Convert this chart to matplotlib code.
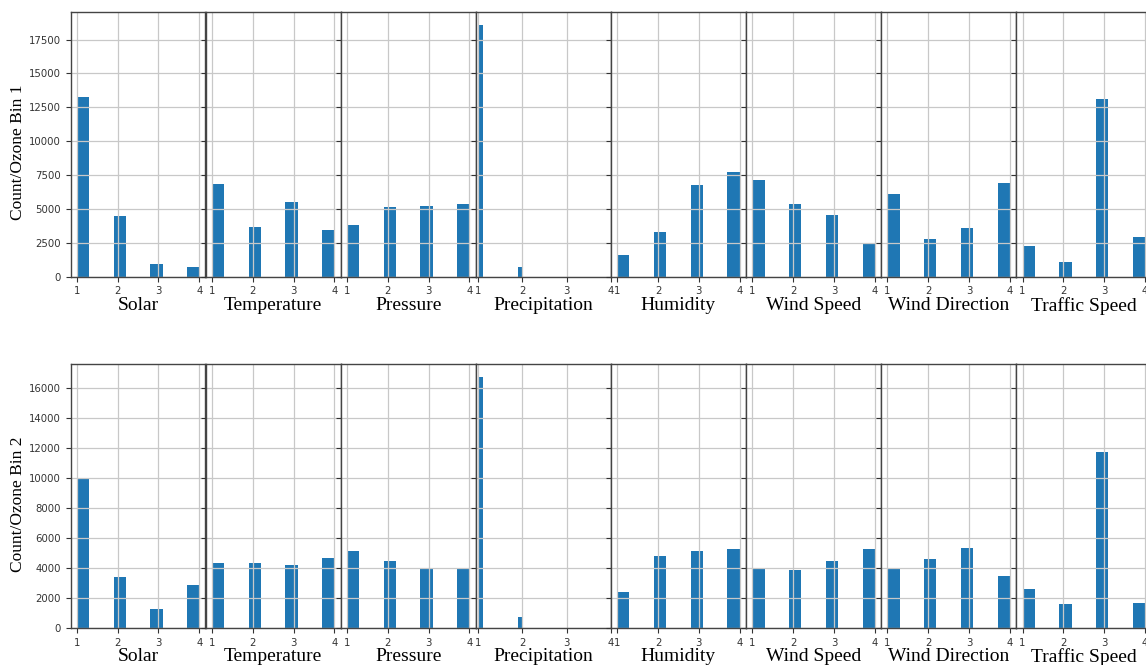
import numpy as np
import matplotlib.pyplot as plt
from matplotlib.ticker import MultipleLocator

# Variables (one panel each) and the discretised levels
CATEGORIES = ["Solar", "Temperature", "Pressure", "Precipitation",
              "Humidity", "Wind Speed", "Wind Direction", "Traffic Speed"]
LEVELS = [1, 2, 3, 4]
PRECIP_LEVELS = [1, 2]

# Counts for ozone bin 1 (top row)
solar_b1 = [13270, 4480, 960, 740]
temperature_b1 = [6840, 3690, 5490, 3470]
pressure_b1 = [3810, 5120, 5190, 5340]
precipitation_b1 = [18580, 740]
humidity_b1 = [1600, 3320, 6760, 7700]
wind_speed_b1 = [7110, 5380, 4530, 2390]
wind_dir_b1 = [6120, 2760, 3610, 6910]
traffic_b1 = [2240, 1080, 13080, 2950]

# Counts for ozone bin 2 (bottom row)
solar_b2 = [9990, 3380, 1260, 2850]
temperature_b2 = [4330, 4330, 4200, 4640]
pressure_b2 = [5170, 4460, 3950, 3950]
precipitation_b2 = [16730, 730]
humidity_b2 = [2410, 4780, 5110, 5240]
wind_speed_b2 = [3950, 3890, 4460, 5240]
wind_dir_b2 = [3950, 4600, 5370, 3490]
traffic_b2 = [2590, 1630, 11690, 1700]

ROW1 = [solar_b1, temperature_b1, pressure_b1, precipitation_b1,
        humidity_b1, wind_speed_b1, wind_dir_b1, traffic_b1]
ROW2 = [solar_b2, temperature_b2, pressure_b2, precipitation_b2,
        humidity_b2, wind_speed_b2, wind_dir_b2, traffic_b2]

W, H = 1146, 665
SERIF = "Liberation Serif"


def draw_row(fig, counts_list, bottom_px, top_px, ylabel, ystep):
    """One row of stitched-together histogram panels"""
    left0 = 70.7
    step = 135.1
    first = None
    for i, (name, counts) in enumerate(zip(CATEGORIES, counts_list)):
        left = left0 + i * step
        rect = [left / W, 1 - bottom_px / H, (step - 0.4) / W, (bottom_px - top_px) / H]
        ax = fig.add_axes(rect)
        if first is None:
            first = ax
        else:
            ax.sharey(first)

        levels = PRECIP_LEVELS if name == "Precipitation" else LEVELS
        bins = np.linspace(levels[0], levels[-1], 11)
        ax.hist(levels, bins=bins, weights=counts, color="#1f77b4")

        ax.set_xticks(LEVELS)
        ax.grid(True, color="#c8c8c8", linewidth=0.9)
        ax.yaxis.set_major_locator(MultipleLocator(ystep))
        ax.tick_params(labelsize=7.3, colors="#333333")
        for sp in ax.spines.values():
            sp.set_color("#444444")
            sp.set_linewidth(1.0)
        ax.set_xlabel(name, family=SERIF, fontsize=14, labelpad=0.3)

        if i == 0:
            ax.set_ylabel(ylabel, family=SERIF, fontsize=12.5)
            # label sits a bit right of and below the default spot
            ax.yaxis.set_label_coords(-0.335, 0.47)
        else:
            ax.tick_params(labelleft=False)


fig = plt.figure(figsize=(W / 100, H / 100), dpi=100)
draw_row(fig, ROW1, 276.7, 12.3, "Count/Ozone Bin 1", 2500)
draw_row(fig, ROW2, 628.3, 364.0, "Count/Ozone Bin 2", 2000)

fig.savefig("out.png", dpi=100)
plt.close(fig)
